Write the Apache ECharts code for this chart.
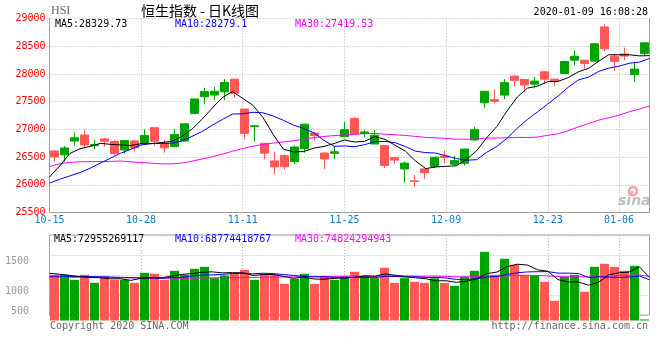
<!DOCTYPE html>
<html><head><meta charset="utf-8">
<script src="https://cdn.jsdelivr.net/npm/echarts@6/dist/echarts.min.js"></script>
<style>html,body{margin:0;padding:0;background:#fff}#c{width:660px;height:360px}</style>
</head><body><div id="c"></div>
<script>
// ---- data ----
const dates = ['10-15','10-16','10-17','10-18','10-21','10-22','10-23','10-24','10-25','10-28',
 '10-29','10-30','10-31','11-01','11-04','11-05','11-06','11-07','11-08','11-11',
 '11-12','11-13','11-14','11-15','11-18','11-19','11-20','11-21','11-22','11-25',
 '11-26','11-27','11-28','11-29','12-02','12-03','12-04','12-05','12-06','12-09',
 '12-10','12-11','12-12','12-13','12-16','12-17','12-18','12-19','12-20','12-23',
 '12-24','12-27','12-30','12-31','01-02','01-03','01-06','01-07','01-08','01-09'];
const opens = [26610,26540,26790,26898,26706,26828,26780,26628,26790,26748,
 27030,26748,26688,26790,27288,27588,27618,27678,27906,27366,
 27048,26748,26430,26526,26418,26652,26934,26574,26568,26868,
 27198,26922,26736,26706,26490,26286,26070,26286,26328,26520,
 26370,26388,26808,27480,27534,27618,27960,27900,27816,28038,
 27906,28008,28248,28248,28230,28848,28320,28360,27990,28368];
const closes = [26503,26664,26848,26720,26725,26786,26566,26797,26667,26891,
 26786,26667,26906,27101,27548,27683,27688,27847,27651,26926,
 27065,26571,26323,26327,26681,27094,26889,26467,26595,26994,
 26914,26954,26894,26346,26445,26391,26062,26218,26498,26494,
 26436,26645,26994,27687,27508,27843,27884,27800,27871,27906,
 27864,28225,28319,28190,28543,28452,28226,28322,28087,28561];
const lows = [26420,26418,26706,26658,26640,26690,26526,26568,26598,26736,
 26706,26580,26680,26780,27280,27450,27528,27528,27570,26820,
 26778,26460,26184,26280,26376,26580,26796,26286,26466,26856,
 26900,26856,26730,26298,26376,26040,25968,26106,26300,26388,
 26346,26346,26800,27390,27468,27546,27768,27678,27738,27816,
 27780,28000,28158,28098,28225,28410,28056,28248,27858,28320];
const highs = [26620,26700,26946,26988,26808,26845,26808,26808,26808,27000,
 27035,26808,27000,27110,27555,27750,27768,27906,27910,27370,
 27070,26750,26592,26556,26706,27100,26946,26580,26688,27132,
 27228,26988,26988,26710,26508,26418,26178,26290,26500,26610,
 26520,26650,27048,27695,27720,27906,27972,27905,27948,28045,
 27918,28235,28428,28250,28560,28896,28368,28476,28218,28570];
const ma5 = [26140,26340,26565,26650,26692,26749,26729,26719,26708,26741,
 26741,26762,26783,26870,27002,27181,27385,27573,27683,27559,
 27435,27212,26907,26642,26593,26599,26663,26692,26745,26808,
 26772,26785,26870,26820,26711,26606,26428,26292,26323,26333,
 26342,26458,26613,26851,27054,27335,27583,27744,27781,27861,
 27865,27933,28037,28101,28228,28346,28346,28346,28326,28330];
const ma10 = [26030,26100,26160,26220,26300,26390,26480,26570,26640,26717,
 26745,26745,26751,26789,26872,26961,27073,27178,27277,27280,
 27308,27299,27240,27163,27076,27017,26937,26799,26694,26701,
 26686,26724,26781,26783,26759,26689,26606,26581,26572,26522,
 26474,26443,26453,26587,26693,26839,27021,27179,27316,27457,
 27600,27758,27891,27941,28045,28105,28140,28192,28213,28279];
const ma30 = [26330,26380,26405,26415,26418,26418,26422,26428,26415,26402,
 26390,26378,26378,26390,26425,26465,26505,26555,26605,26655,
 26695,26728,26752,26772,26795,26822,26850,26872,26888,26899,
 26913,26923,26925,26912,26903,26890,26873,26854,26848,26835,
 26823,26822,26825,26844,26843,26848,26855,26853,26861,26893,
 26920,26975,27042,27104,27166,27211,27255,27317,27367,27420];
// turnover, in units of 100 million HKD
const volumes = [775,775,690,775,639,747,690,690,639,809,
 792,690,843,775,877,911,718,764,792,860,
 690,792,775,622,707,792,622,758,690,758,
 826,758,718,894,639,718,656,639,718,639,
 588,741,843,1165,775,1047,945,775,758,656,
 334,741,775,487,911,962,911,843,928,17];
const volMa5 = [801,784,765,743,731,725,708,708,681,715,
 724,724,755,782,795,819,825,809,812,809,
 765,780,782,748,717,738,704,700,714,724,
 731,758,750,791,767,745,725,709,674,674,
 648,665,706,795,822,914,955,941,860,836,
 694,653,653,599,650,775,809,823,911,732];
const volMa10 = [750,750,748,748,745,742,738,732,727,723,
 725,716,731,731,755,772,774,782,797,802,
 792,802,795,780,763,751,742,741,731,721,
 734,731,725,752,746,738,742,730,732,721,
 697,695,708,735,748,781,810,824,828,829,
 804,804,797,729,743,734,731,738,755,691];
const volMa30 = [735,735,734,733,732,730,728,726,724,722,
 720,718,718,718,720,722,724,726,728,730,
 732,734,736,738,740,742,744,746,747,749,
 750,750,751,755,755,754,753,751,753,748,
 741,743,743,756,752,757,764,765,764,757,
 745,743,743,739,746,751,761,764,772,747];
const priceMin = 25500, priceMax = 29000, priceStep = 500;
const volMin = 93, volMax = 1451, volStep = 339.5;
const dateLabelIdx = [0, 9, 19, 29, 39, 49, 56];
const volTickLabels = ['1500', '1000', '500'];
const legendMain = ['MA5:28329.73', 'MA10:28279.1', 'MA30:27419.53'];
const legendVol = ['MA5:72955269117', 'MA10:68774418767', 'MA30:74824294943'];
const titleText = '恒生指数 - 日K线图';
const codeText = 'HSI';
const timeText = '2020-01-09 16:08:28';
const copyText = 'Copyright 2020 SINA.COM';
const urlText = 'http://finance.sina.com.cn';

// ---- chart ----
const GREEN = '#00a400', RED = '#ff5656', GRAY = '#a0a0a0', GRID = '#b4b4b4';
const MONO = '"DejaVu Sans Mono", monospace';
const lineColors = ['#000000', '#0000ff', '#ff00ff'];
const showIdx = (i) => dateLabelIdx.indexOf(i) >= 0;
const candles = dates.map((d, i) => [opens[i], closes[i], lows[i], highs[i]]);
const volData = volumes.map((v, i) => ({value: v, itemStyle: {color: closes[i] > opens[i] ? GREEN : RED}}));

function maLine(data, color, xi, yi) {
  return {type: 'line', data: data, xAxisIndex: xi, yAxisIndex: yi, symbol: 'none', z: 4,
    lineStyle: {color: color, width: 1}, silent: true};
}
const txt = (x, y, text, color, font, align) => ({type: 'text', x: x, y: y, silent: true,
  style: {text: text, fill: color, font: font, align: align || 'left', verticalAlign: 'middle'}});

const chart = echarts.init(document.getElementById('c'));
chart.setOption({
  animation: false,
  backgroundColor: '#fff',
  grid: [
    {left: 49.5, top: 18.5, width: 600, height: 194},
    {left: 49.5, top: 235, width: 600, height: 80, show: true, borderColor: GRAY, borderWidth: 1}
  ],
  xAxis: [
    {type: 'category', gridIndex: 0, data: dates, boundaryGap: false,
     axisLine: {onZero: false, lineStyle: {color: GRAY}}, axisTick: {show: false},
     axisLabel: {interval: showIdx, color: '#0a7ad0', fontFamily: MONO, fontSize: 10, margin: 3},
     splitLine: {show: true, interval: showIdx, lineStyle: {color: GRID, type: [1, 2]}}},
    {type: 'category', gridIndex: 0, data: dates, boundaryGap: true, show: false},
    {type: 'category', gridIndex: 1, data: dates, boundaryGap: false,
     axisLine: {show: false}, axisTick: {show: false}, axisLabel: {show: false},
     splitLine: {show: true, interval: showIdx, lineStyle: {color: GRID, type: [1, 2]}}},
    {type: 'category', gridIndex: 1, data: dates, boundaryGap: true, show: false}
  ],
  yAxis: [
    {type: 'value', gridIndex: 0, min: priceMin, max: priceMax, interval: priceStep,
     axisLine: {show: true, lineStyle: {color: GRAY}}, axisTick: {show: false},
     axisLabel: {color: '#ff0000', fontFamily: MONO, fontSize: 10, margin: 4, formatter: (v) => String(v)},
     splitLine: {lineStyle: {color: GRID, type: [1, 2]}}},
    {type: 'value', gridIndex: 0, position: 'right', min: priceMin, max: priceMax,
     axisLine: {show: true, lineStyle: {color: GRAY}}, axisTick: {show: false},
     axisLabel: {show: false}, splitLine: {show: false}},
    {type: 'value', gridIndex: 1, min: volMin, max: volMax, interval: volStep,
     axisLine: {show: false}, axisTick: {show: false}, axisLabel: {show: false},
     splitLine: {show: true, lineStyle: {color: GRID, type: [1, 2]}}}
  ],
  series: [
    {type: 'candlestick', xAxisIndex: 1, yAxisIndex: 0, data: candles, barWidth: 9, z: 2, silent: true,
     itemStyle: {color: GREEN, color0: RED, borderColor: GREEN, borderColor0: RED, borderWidth: 1}},
    maLine(ma30, lineColors[2], 0, 0),
    maLine(ma10, lineColors[1], 0, 0),
    maLine(ma5, lineColors[0], 0, 0),
    {type: 'bar', xAxisIndex: 3, yAxisIndex: 2, data: volData, barWidth: 9, z: 2, silent: true, clip: false},
    maLine(volMa30, lineColors[2], 2, 2),
    maLine(volMa10, lineColors[1], 2, 2),
    maLine(volMa5, lineColors[0], 2, 2)
  ],
  graphic: [
    txt(51, 11, codeText, '#666', '12px "Liberation Serif"'),
    txt(200, 11, titleText, '#000', '14px "Noto Sans CJK SC"', 'center'),
    txt(648, 12, timeText, '#000', '10px ' + MONO, 'right'),
    txt(55, 24, legendMain[0], lineColors[0], '10px ' + MONO),
    txt(175, 24, legendMain[1], lineColors[1], '10px ' + MONO),
    txt(295, 24, legendMain[2], lineColors[2], '10px ' + MONO),
    txt(54, 239, legendVol[0], lineColors[0], '10px ' + MONO),
    txt(175, 239, legendVol[1], lineColors[1], '10px ' + MONO),
    txt(295, 239, legendVol[2], lineColors[2], '10px ' + MONO),
    txt(29, 261, volTickLabels[0], '#999', '10px ' + MONO, 'right'),
    txt(29, 291, volTickLabels[1], '#999', '10px ' + MONO, 'right'),
    txt(29, 311, volTickLabels[2], '#999', '10px ' + MONO, 'right'),
    txt(50, 326, copyText, '#666', '10px ' + MONO),
    txt(648, 326, urlText, '#666', '10px ' + MONO, 'right'),
    {type: 'circle', shape: {cx: 633, cy: 191, r: 4}, silent: true,
     style: {fill: 'none', stroke: '#ffa0a0', lineWidth: 2.5}},
    {type: 'circle', shape: {cx: 632, cy: 192, r: 1.3}, silent: true, style: {fill: '#ffa0a0'}},
    txt(618, 201, 'sina', '#c0c0c0', 'italic bold 14px "DejaVu Sans"')
  ]
});
</script>
</body></html>
